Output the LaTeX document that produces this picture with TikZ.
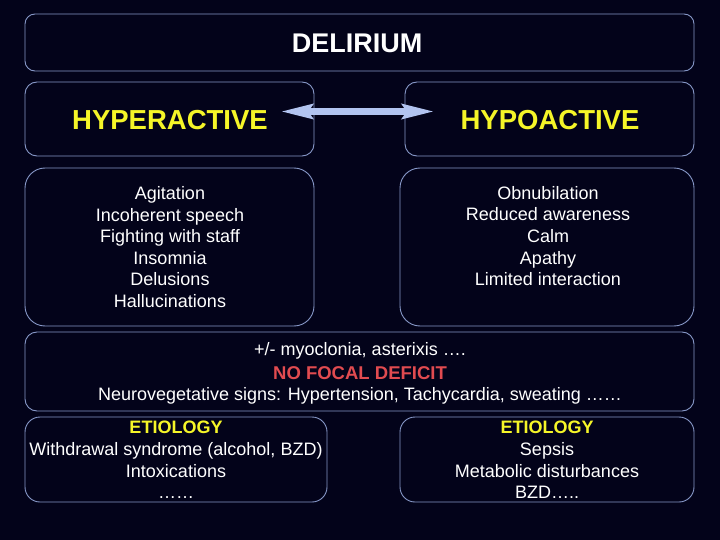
\documentclass[tikz,border=0pt]{standalone}
\usepackage{fontspec}
\setmainfont{Liberation Sans}
\usetikzlibrary{arrows.meta}
\definecolor{bg}{RGB}{3,3,26}
\definecolor{edge}{RGB}{135,152,200}
\definecolor{ttl}{RGB}{245,245,40}
\definecolor{redt}{RGB}{225,75,80}
\definecolor{arr}{RGB}{178,196,240}
\tikzset{
  box/.style={draw=edge, line width=0.9pt, inner sep=0pt},
  txt/.style={text=white, align=center, font=\fontsize{18}{21.6}\selectfont, inner sep=0pt},
  big/.style={text=white, font=\fontsize{27}{30}\selectfont\bfseries, inner sep=0pt},
  head/.style={text=ttl, font=\fontsize{27.5}{30}\selectfont\bfseries, inner sep=0pt},
  twoway/.style={draw=arr, line width=7pt, {Stealth[length=32pt,width=14pt,inset=4pt]}-{Stealth[length=32pt,width=14pt,inset=4pt]}}
}
\begin{document}
\begin{tikzpicture}[x=1pt,y=-1pt]
\fill[bg] (0,0) rectangle (720,540);
\useasboundingbox (0,0) rectangle (720,540);

% boxes
\draw[box, rounded corners=10pt] (25,14) rectangle (694,71);
\node[big] (del) at (357,43) {DELIRIUM};

\draw[box, rounded corners=12pt] (25,82) rectangle (314,156);
\draw[box, rounded corners=12pt] (405,82) rectangle (694,156);
\node[head] (hyper) at (170,120) {HYPERACTIVE};
\node[head] (hypo) at (550,120) {HYPOACTIVE};

\coordinate (al) at (280,111.5);
\coordinate (ar) at (435,111.5);
\draw[twoway] (al) -- (ar);

\draw[box, rounded corners=20pt] (25,168) rectangle (314,326);
\draw[box, rounded corners=20pt] (400,168) rectangle (694,326);
\node[txt] (lsym) at (170,247) {Agitation\\Incoherent speech\\Fighting with staff\\Insomnia\\Delusions\\Hallucinations};
\node[txt] (rsym) at (548,236) {Obnubilation\\Reduced awareness\\Calm\\Apathy\\Limited interaction};

\draw[box, rounded corners=12pt] (25,332) rectangle (694,411);
\node[txt] (myo) at (360,351) {+/- myoclonia, asterixis ….};
\node[text=redt, font=\fontsize{18.5}{22}\selectfont\bfseries, inner sep=0pt] (nfd) at (360,373) {NO FOCAL DEFICIT};
\node[txt] (neuro) at (360,396) {Neurovegetative signs: Hypertension, Tachycardia, sweating ……};

\draw[box, rounded corners=15pt] (25,417) rectangle (327,502);
\draw[box, rounded corners=15pt] (400,417) rectangle (694,502);
\node[txt] (let) at (176,460) {\textcolor{ttl}{\bfseries ETIOLOGY}\\Withdrawal syndrome (alcohol, BZD)\\Intoxications\\……};
\node[txt] (ret) at (547,460) {\textcolor{ttl}{\bfseries ETIOLOGY}\\Sepsis\\Metabolic disturbances\\BZD…..};
\end{tikzpicture}
\end{document}
